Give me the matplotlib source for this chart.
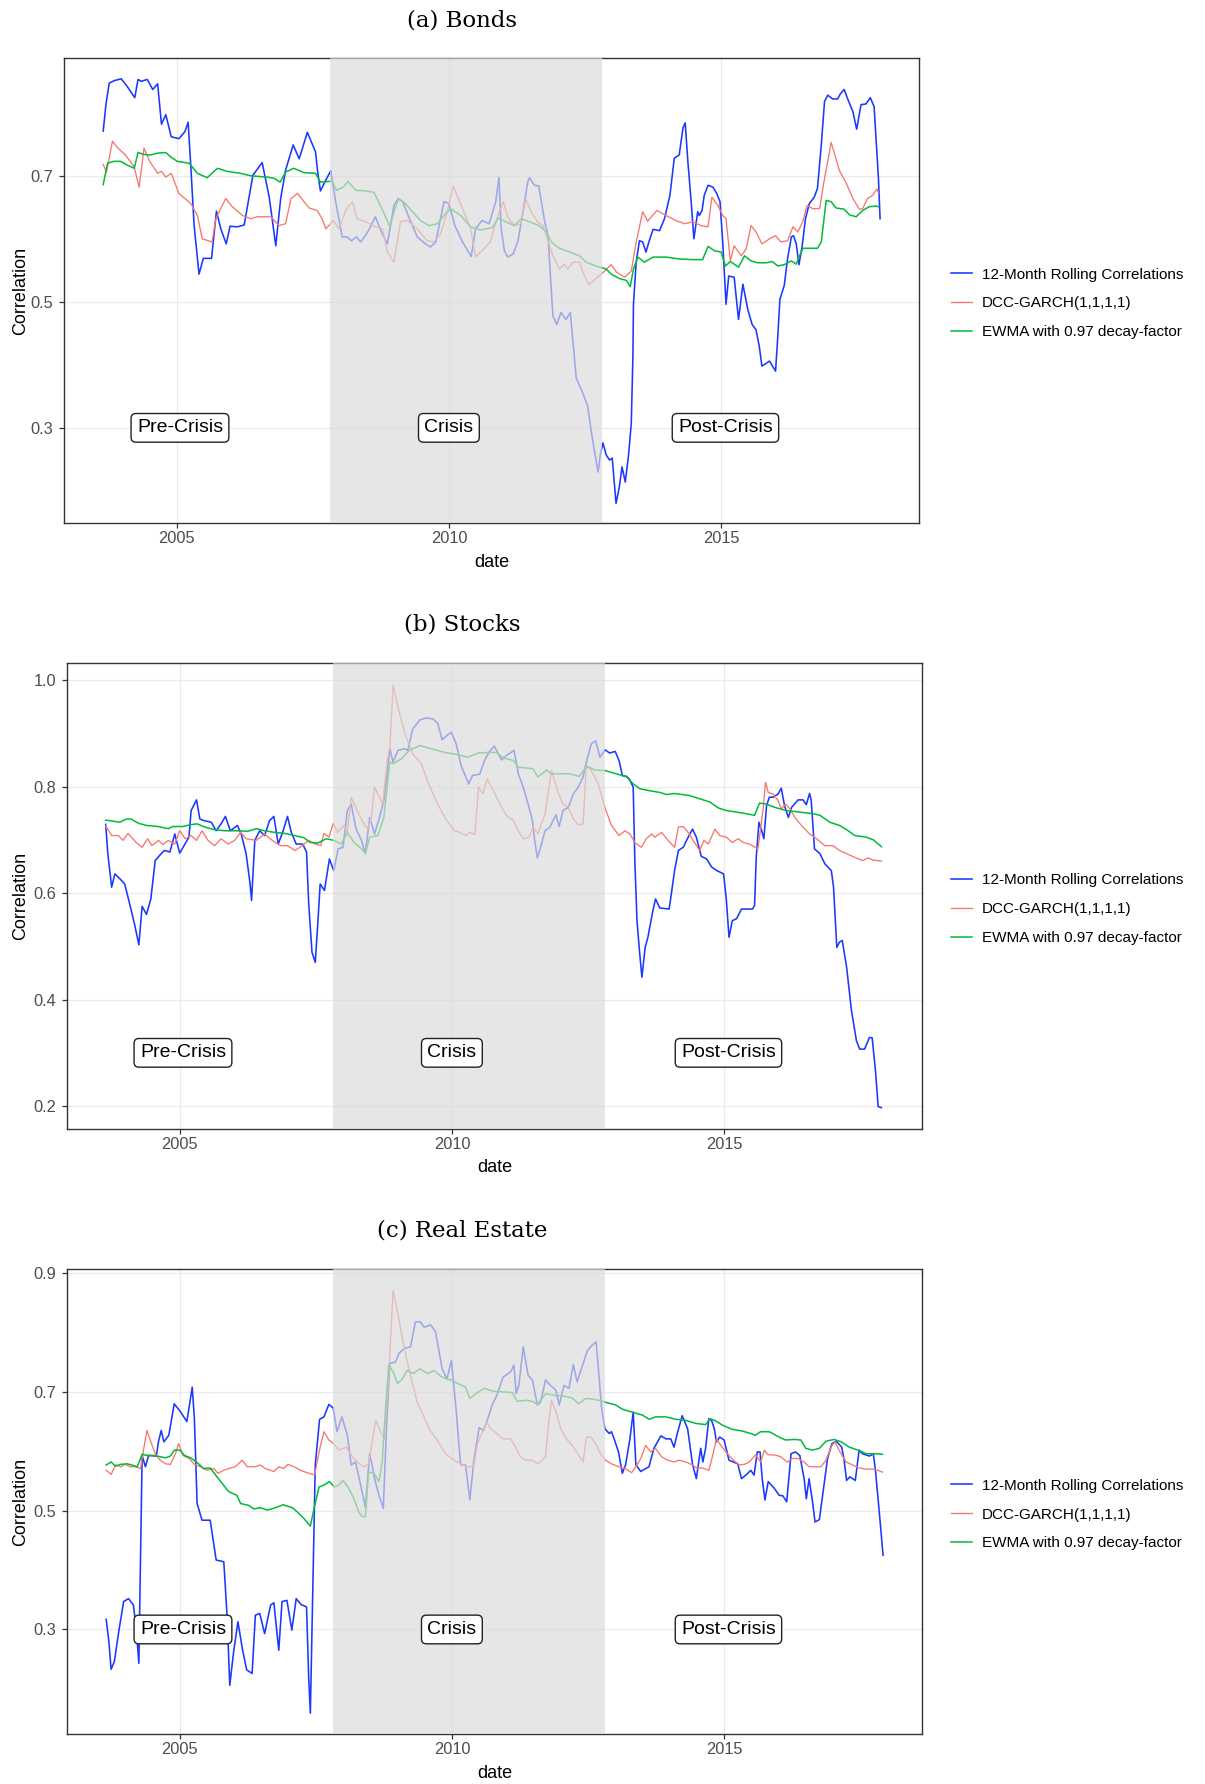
import matplotlib
matplotlib.use('Agg')
import matplotlib.pyplot as plt
from matplotlib.patches import Rectangle
from matplotlib.lines import Line2D

W, H = 1205, 1784

# crisis window (decimal years)
crisis_start = 2007.82
crisis_end = 2012.82

series_names = ['12-Month Rolling Correlations', 'DCC-GARCH(1,1,1,1)', 'EWMA with 0.97 decay-factor']
series_colors = ['#1A38FF', '#F8766D', '#00BA38']
period_labels = ['Pre-Crisis', 'Crisis', 'Post-Crisis']
period_label_x = [2005.06, 2010.0, 2015.08]
period_label_y = 0.3

# ---- (a) Bonds ----
bonds_roll = [(2003.65, 0.771), (2003.70, 0.813), (2003.76, 0.847), (2003.85, 0.851), (2003.98, 0.854),
              (2004.09, 0.842), (2004.23, 0.824), (2004.29, 0.853), (2004.35, 0.850), (2004.46, 0.853),
              (2004.56, 0.837), (2004.65, 0.846), (2004.72, 0.782), (2004.80, 0.797), (2004.90, 0.762),
              (2005.04, 0.759), (2005.15, 0.770), (2005.21, 0.785), (2005.26, 0.714), (2005.32, 0.621),
              (2005.41, 0.544), (2005.49, 0.569), (2005.64, 0.569), (2005.73, 0.644), (2005.81, 0.616),
              (2005.91, 0.592), (2005.98, 0.620), (2006.11, 0.619), (2006.24, 0.622), (2006.32, 0.661),
              (2006.40, 0.701), (2006.57, 0.721), (2006.70, 0.666), (2006.82, 0.589), (2006.91, 0.664),
              (2007.00, 0.709), (2007.14, 0.749), (2007.25, 0.727), (2007.40, 0.769), (2007.55, 0.738),
              (2007.59, 0.706), (2007.64, 0.676), (2007.75, 0.695), (2007.83, 0.708), (2007.92, 0.659),
              (2008.04, 0.603), (2008.13, 0.603), (2008.21, 0.597), (2008.30, 0.603), (2008.38, 0.595),
              (2008.51, 0.611), (2008.65, 0.635), (2008.75, 0.613), (2008.87, 0.592), (2008.99, 0.653),
              (2009.07, 0.664), (2009.15, 0.659), (2009.30, 0.627), (2009.42, 0.603), (2009.57, 0.592),
              (2009.66, 0.587), (2009.76, 0.595), (2009.91, 0.659), (2010.00, 0.656), (2010.11, 0.621),
              (2010.25, 0.595), (2010.41, 0.572), (2010.49, 0.616), (2010.61, 0.629), (2010.74, 0.624),
              (2010.86, 0.659), (2010.92, 0.697), (2010.96, 0.616), (2011.02, 0.581), (2011.08, 0.571),
              (2011.18, 0.576), (2011.27, 0.597), (2011.36, 0.643), (2011.45, 0.691), (2011.48, 0.697),
              (2011.57, 0.685), (2011.65, 0.684), (2011.76, 0.627), (2011.82, 0.605), (2011.88, 0.520),
              (2011.91, 0.478), (2011.98, 0.464), (2012.06, 0.483), (2012.15, 0.472), (2012.23, 0.483),
              (2012.28, 0.435), (2012.34, 0.379), (2012.46, 0.355), (2012.55, 0.334), (2012.61, 0.297),
              (2012.67, 0.265), (2012.74, 0.230), (2012.78, 0.257), (2012.83, 0.276), (2012.89, 0.257),
              (2012.95, 0.249), (2013.00, 0.252), (2013.07, 0.180), (2013.13, 0.206), (2013.18, 0.238),
              (2013.24, 0.214), (2013.30, 0.257), (2013.35, 0.307), (2013.38, 0.414), (2013.39, 0.496),
              (2013.44, 0.563), (2013.50, 0.597), (2013.56, 0.595), (2013.62, 0.579), (2013.68, 0.597),
              (2013.75, 0.615), (2013.87, 0.613), (2013.96, 0.632), (2014.06, 0.669), (2014.14, 0.728),
              (2014.23, 0.733), (2014.30, 0.776), (2014.34, 0.784), (2014.39, 0.722), (2014.45, 0.659),
              (2014.50, 0.600), (2014.57, 0.643), (2014.60, 0.637), (2014.65, 0.645), (2014.69, 0.669),
              (2014.76, 0.685), (2014.85, 0.682), (2014.92, 0.672), (2014.98, 0.659), (2015.03, 0.595),
              (2015.09, 0.496), (2015.14, 0.541), (2015.24, 0.539), (2015.32, 0.472), (2015.40, 0.528),
              (2015.49, 0.488), (2015.57, 0.464), (2015.64, 0.456), (2015.70, 0.430), (2015.75, 0.398),
              (2015.89, 0.406), (2016.00, 0.390), (2016.04, 0.443), (2016.08, 0.504), (2016.16, 0.526),
              (2016.22, 0.568), (2016.29, 0.603), (2016.33, 0.605), (2016.38, 0.592), (2016.43, 0.559),
              (2016.49, 0.589), (2016.55, 0.632), (2016.62, 0.656), (2016.71, 0.666), (2016.77, 0.680),
              (2016.84, 0.749), (2016.90, 0.818), (2016.96, 0.828), (2017.05, 0.822), (2017.14, 0.822),
              (2017.19, 0.830), (2017.26, 0.837), (2017.33, 0.821), (2017.42, 0.802), (2017.49, 0.774),
              (2017.57, 0.813), (2017.66, 0.814), (2017.74, 0.824), (2017.81, 0.810), (2017.86, 0.738),
              (2017.89, 0.696), (2017.92, 0.632)]
bonds_dcc = [(2003.65, 0.718), (2003.71, 0.706), (2003.82, 0.755), (2003.91, 0.745), (2004.06, 0.733),
             (2004.22, 0.714), (2004.31, 0.682), (2004.40, 0.744), (2004.51, 0.722), (2004.65, 0.704),
             (2004.72, 0.707), (2004.80, 0.698), (2004.90, 0.704), (2005.04, 0.672), (2005.26, 0.656),
             (2005.38, 0.637), (2005.47, 0.600), (2005.65, 0.595), (2005.72, 0.632), (2005.90, 0.664),
             (2006.02, 0.651), (2006.21, 0.637), (2006.36, 0.632), (2006.48, 0.635), (2006.73, 0.635),
             (2006.88, 0.621), (2007.00, 0.624), (2007.10, 0.664), (2007.22, 0.672), (2007.34, 0.659),
             (2007.43, 0.649), (2007.58, 0.645), (2007.67, 0.632), (2007.74, 0.616), (2007.88, 0.629),
             (2007.98, 0.616), (2008.12, 0.648), (2008.23, 0.659), (2008.31, 0.632), (2008.47, 0.627),
             (2008.65, 0.619), (2008.78, 0.616), (2008.87, 0.579), (2008.99, 0.563), (2009.11, 0.627),
             (2009.24, 0.629), (2009.42, 0.616), (2009.60, 0.597), (2009.72, 0.595), (2009.85, 0.608),
             (2009.97, 0.643), (2010.08, 0.684), (2010.25, 0.648), (2010.40, 0.616), (2010.49, 0.571),
             (2010.64, 0.584), (2010.76, 0.595), (2010.87, 0.629), (2011.00, 0.659), (2011.08, 0.635),
             (2011.20, 0.621), (2011.33, 0.624), (2011.41, 0.664), (2011.51, 0.643), (2011.63, 0.627),
             (2011.73, 0.621), (2011.82, 0.597), (2011.91, 0.573), (2012.03, 0.552), (2012.12, 0.560),
             (2012.18, 0.552), (2012.28, 0.563), (2012.40, 0.563), (2012.46, 0.547), (2012.57, 0.527),
             (2012.67, 0.535), (2012.80, 0.544), (2012.98, 0.559), (2013.08, 0.547), (2013.23, 0.539),
             (2013.35, 0.549), (2013.44, 0.595), (2013.56, 0.643), (2013.65, 0.628), (2013.82, 0.645),
             (2013.99, 0.637), (2014.17, 0.629), (2014.33, 0.624), (2014.48, 0.627), (2014.63, 0.621),
             (2014.76, 0.619), (2014.83, 0.666), (2014.94, 0.653), (2015.03, 0.637), (2015.09, 0.632),
             (2015.17, 0.565), (2015.24, 0.589), (2015.37, 0.573), (2015.46, 0.584), (2015.55, 0.621),
             (2015.64, 0.611), (2015.75, 0.592), (2015.89, 0.600), (2016.00, 0.605), (2016.10, 0.595),
             (2016.22, 0.597), (2016.32, 0.619), (2016.41, 0.611), (2016.50, 0.627), (2016.58, 0.653),
             (2016.68, 0.648), (2016.81, 0.648), (2016.90, 0.696), (2016.98, 0.733), (2017.02, 0.753),
             (2017.08, 0.736), (2017.17, 0.709), (2017.30, 0.688), (2017.42, 0.664), (2017.54, 0.647),
             (2017.60, 0.648), (2017.69, 0.664), (2017.78, 0.669), (2017.86, 0.679), (2017.89, 0.673)]
bonds_ewma = [(2003.65, 0.686), (2003.73, 0.720), (2003.85, 0.723), (2003.97, 0.723), (2004.09, 0.717),
              (2004.22, 0.712), (2004.29, 0.737), (2004.40, 0.734), (2004.51, 0.733), (2004.65, 0.736),
              (2004.80, 0.737), (2004.89, 0.730), (2005.01, 0.723), (2005.23, 0.720), (2005.38, 0.704),
              (2005.56, 0.697), (2005.75, 0.712), (2005.93, 0.707), (2006.17, 0.704), (2006.36, 0.700),
              (2006.66, 0.698), (2006.79, 0.696), (2006.90, 0.690), (2007.00, 0.706), (2007.15, 0.712),
              (2007.34, 0.705), (2007.55, 0.704), (2007.64, 0.690), (2007.77, 0.691), (2007.86, 0.691),
              (2007.94, 0.677), (2008.06, 0.682), (2008.15, 0.691), (2008.29, 0.677), (2008.47, 0.676),
              (2008.62, 0.674), (2008.71, 0.659), (2008.81, 0.640), (2008.92, 0.619), (2008.99, 0.643),
              (2009.08, 0.664), (2009.20, 0.656), (2009.33, 0.643), (2009.48, 0.629), (2009.63, 0.621),
              (2009.79, 0.624), (2009.91, 0.637), (2010.03, 0.648), (2010.22, 0.637), (2010.40, 0.619),
              (2010.58, 0.614), (2010.80, 0.618), (2010.91, 0.633), (2011.05, 0.627), (2011.20, 0.621),
              (2011.33, 0.632), (2011.48, 0.627), (2011.66, 0.621), (2011.79, 0.611), (2011.88, 0.595),
              (2012.03, 0.585), (2012.22, 0.579), (2012.40, 0.573), (2012.52, 0.563), (2012.70, 0.557),
              (2012.89, 0.552), (2012.98, 0.544), (2013.13, 0.537), (2013.26, 0.534), (2013.33, 0.524),
              (2013.39, 0.552), (2013.47, 0.571), (2013.59, 0.563), (2013.75, 0.571), (2013.99, 0.571),
              (2014.23, 0.568), (2014.48, 0.567), (2014.66, 0.567), (2014.76, 0.588), (2014.88, 0.581),
              (2015.00, 0.579), (2015.08, 0.557), (2015.17, 0.564), (2015.32, 0.555), (2015.43, 0.573),
              (2015.55, 0.565), (2015.67, 0.562), (2015.83, 0.562), (2015.94, 0.564), (2016.04, 0.557),
              (2016.16, 0.559), (2016.29, 0.565), (2016.38, 0.560), (2016.50, 0.585), (2016.77, 0.585),
              (2016.84, 0.595), (2016.93, 0.661), (2017.02, 0.659), (2017.11, 0.649), (2017.26, 0.647),
              (2017.36, 0.638), (2017.48, 0.635), (2017.60, 0.645), (2017.72, 0.651), (2017.85, 0.652),
              (2017.89, 0.651)]

# ---- (b) Stocks ----
stocks_roll = [(2003.64, 0.729), (2003.68, 0.674), (2003.75, 0.611), (2003.81, 0.636), (2003.90, 0.627),
               (2003.99, 0.617), (2004.08, 0.580), (2004.17, 0.542), (2004.25, 0.503), (2004.31, 0.575),
               (2004.39, 0.560), (2004.47, 0.589), (2004.55, 0.661), (2004.66, 0.674), (2004.72, 0.680),
               (2004.82, 0.677), (2004.91, 0.711), (2005.00, 0.675), (2005.08, 0.689), (2005.17, 0.705),
               (2005.21, 0.755), (2005.31, 0.775), (2005.37, 0.739), (2005.45, 0.736), (2005.58, 0.733),
               (2005.67, 0.717), (2005.76, 0.730), (2005.84, 0.744), (2005.93, 0.717), (2006.06, 0.727),
               (2006.13, 0.711), (2006.22, 0.674), (2006.29, 0.620), (2006.32, 0.586), (2006.38, 0.699),
               (2006.47, 0.717), (2006.56, 0.708), (2006.65, 0.736), (2006.73, 0.744), (2006.81, 0.692),
               (2006.90, 0.717), (2006.98, 0.744), (2007.05, 0.714), (2007.14, 0.692), (2007.26, 0.692),
               (2007.33, 0.677), (2007.37, 0.580), (2007.43, 0.489), (2007.49, 0.470), (2007.54, 0.548),
               (2007.58, 0.617), (2007.66, 0.605), (2007.75, 0.664), (2007.83, 0.642), (2007.91, 0.683),
               (2008.00, 0.686), (2008.08, 0.755), (2008.15, 0.767), (2008.24, 0.720), (2008.34, 0.699),
               (2008.41, 0.674), (2008.49, 0.742), (2008.58, 0.711), (2008.67, 0.742), (2008.75, 0.774),
               (2008.81, 0.824), (2008.86, 0.871), (2008.92, 0.846), (2009.01, 0.868), (2009.13, 0.871),
               (2009.19, 0.868), (2009.28, 0.908), (2009.41, 0.925), (2009.53, 0.929), (2009.65, 0.927),
               (2009.74, 0.919), (2009.82, 0.888), (2009.91, 0.896), (2009.99, 0.902), (2010.08, 0.880),
               (2010.17, 0.839), (2010.31, 0.805), (2010.38, 0.821), (2010.51, 0.823), (2010.60, 0.849),
               (2010.69, 0.866), (2010.78, 0.876), (2010.91, 0.850), (2011.00, 0.858), (2011.14, 0.868),
               (2011.17, 0.852), (2011.22, 0.824), (2011.31, 0.799), (2011.40, 0.767), (2011.48, 0.736),
               (2011.52, 0.699), (2011.57, 0.666), (2011.63, 0.686), (2011.71, 0.717), (2011.80, 0.724),
               (2011.91, 0.747), (2011.97, 0.725), (2012.04, 0.755), (2012.14, 0.761), (2012.23, 0.786),
               (2012.32, 0.799), (2012.41, 0.818), (2012.47, 0.846), (2012.56, 0.880), (2012.64, 0.886),
               (2012.72, 0.855), (2012.81, 0.869), (2012.90, 0.863), (2013.00, 0.866), (2013.07, 0.849),
               (2013.13, 0.821), (2013.21, 0.819), (2013.26, 0.814), (2013.33, 0.799), (2013.36, 0.661),
               (2013.40, 0.548), (2013.45, 0.486), (2013.49, 0.442), (2013.55, 0.498), (2013.60, 0.517),
               (2013.68, 0.561), (2013.74, 0.589), (2013.82, 0.572), (2013.99, 0.570), (2014.03, 0.598),
               (2014.09, 0.642), (2014.16, 0.680), (2014.25, 0.686), (2014.34, 0.705), (2014.42, 0.720),
               (2014.49, 0.705), (2014.58, 0.669), (2014.68, 0.664), (2014.77, 0.649), (2014.87, 0.642),
               (2014.99, 0.636), (2015.04, 0.589), (2015.09, 0.517), (2015.15, 0.548), (2015.23, 0.552),
               (2015.32, 0.570), (2015.41, 0.570), (2015.52, 0.570), (2015.56, 0.577), (2015.59, 0.667),
               (2015.64, 0.733), (2015.69, 0.717), (2015.73, 0.702), (2015.78, 0.764), (2015.83, 0.780),
               (2015.90, 0.780), (2015.99, 0.786), (2016.05, 0.797), (2016.11, 0.764), (2016.18, 0.742),
               (2016.24, 0.761), (2016.36, 0.775), (2016.45, 0.775), (2016.51, 0.766), (2016.57, 0.787),
               (2016.60, 0.774), (2016.66, 0.683), (2016.76, 0.674), (2016.85, 0.655), (2016.97, 0.642),
               (2017.01, 0.611), (2017.07, 0.498), (2017.12, 0.508), (2017.17, 0.511), (2017.25, 0.461),
               (2017.34, 0.379), (2017.43, 0.323), (2017.49, 0.307), (2017.58, 0.307), (2017.67, 0.329),
               (2017.72, 0.328), (2017.78, 0.267), (2017.83, 0.199), (2017.89, 0.197)]
stocks_dcc = [(2003.64, 0.726), (2003.75, 0.708), (2003.87, 0.708), (2003.96, 0.699), (2004.05, 0.712),
              (2004.20, 0.695), (2004.31, 0.686), (2004.41, 0.702), (2004.49, 0.689), (2004.61, 0.699),
              (2004.69, 0.691), (2004.79, 0.699), (2004.91, 0.692), (2005.00, 0.717), (2005.10, 0.702),
              (2005.21, 0.708), (2005.31, 0.699), (2005.41, 0.717), (2005.52, 0.699), (2005.64, 0.689),
              (2005.76, 0.702), (2005.89, 0.692), (2006.01, 0.699), (2006.12, 0.714), (2006.22, 0.702),
              (2006.41, 0.699), (2006.56, 0.711), (2006.70, 0.699), (2006.85, 0.689), (2006.98, 0.689),
              (2007.12, 0.680), (2007.25, 0.689), (2007.37, 0.699), (2007.49, 0.692), (2007.59, 0.689),
              (2007.65, 0.712), (2007.74, 0.705), (2007.82, 0.731), (2007.90, 0.714), (2008.02, 0.727),
              (2008.08, 0.714), (2008.15, 0.780), (2008.26, 0.755), (2008.35, 0.736), (2008.45, 0.720),
              (2008.52, 0.742), (2008.58, 0.799), (2008.67, 0.780), (2008.73, 0.767), (2008.81, 0.849),
              (2008.86, 0.874), (2008.92, 0.990), (2009.01, 0.949), (2009.13, 0.902), (2009.28, 0.861),
              (2009.44, 0.843), (2009.56, 0.808), (2009.68, 0.780), (2009.80, 0.755), (2009.93, 0.733),
              (2010.05, 0.717), (2010.14, 0.714), (2010.26, 0.708), (2010.32, 0.714), (2010.42, 0.710),
              (2010.49, 0.799), (2010.57, 0.786), (2010.65, 0.814), (2010.76, 0.793), (2010.88, 0.767),
              (2011.00, 0.746), (2011.13, 0.736), (2011.22, 0.717), (2011.31, 0.702), (2011.42, 0.705),
              (2011.49, 0.724), (2011.58, 0.711), (2011.71, 0.749), (2011.83, 0.830), (2011.95, 0.789),
              (2012.04, 0.767), (2012.14, 0.761), (2012.23, 0.739), (2012.32, 0.728), (2012.41, 0.730),
              (2012.47, 0.839), (2012.56, 0.830), (2012.69, 0.805), (2012.81, 0.761), (2012.93, 0.727),
              (2013.07, 0.708), (2013.18, 0.717), (2013.27, 0.711), (2013.36, 0.695), (2013.48, 0.686),
              (2013.57, 0.702), (2013.67, 0.711), (2013.73, 0.705), (2013.85, 0.714), (2013.97, 0.699),
              (2014.09, 0.686), (2014.16, 0.724), (2014.25, 0.725), (2014.34, 0.714), (2014.43, 0.699),
              (2014.55, 0.680), (2014.63, 0.699), (2014.71, 0.692), (2014.83, 0.720), (2014.92, 0.708),
              (2015.04, 0.705), (2015.15, 0.695), (2015.26, 0.702), (2015.35, 0.695), (2015.47, 0.692),
              (2015.62, 0.683), (2015.65, 0.705), (2015.72, 0.761), (2015.76, 0.808), (2015.81, 0.789),
              (2015.90, 0.786), (2015.99, 0.774), (2016.05, 0.758), (2016.13, 0.767), (2016.21, 0.758),
              (2016.30, 0.742), (2016.42, 0.727), (2016.57, 0.711), (2016.70, 0.702), (2016.85, 0.689),
              (2017.00, 0.689), (2017.12, 0.680), (2017.25, 0.674), (2017.40, 0.667), (2017.55, 0.661),
              (2017.64, 0.666), (2017.74, 0.662), (2017.89, 0.660)]
stocks_ewma = [(2003.64, 0.737), (2003.78, 0.735), (2003.90, 0.733), (2004.02, 0.739), (2004.11, 0.739),
               (2004.24, 0.731), (2004.39, 0.727), (2004.60, 0.725), (2004.79, 0.721), (2004.88, 0.725),
               (2005.06, 0.725), (2005.18, 0.728), (2005.32, 0.730), (2005.46, 0.724), (2005.64, 0.719),
               (2005.83, 0.717), (2006.07, 0.717), (2006.25, 0.716), (2006.41, 0.721), (2006.56, 0.717),
               (2006.74, 0.714), (2006.93, 0.712), (2007.11, 0.708), (2007.28, 0.704), (2007.40, 0.695),
               (2007.54, 0.694), (2007.69, 0.702), (2007.83, 0.699), (2007.97, 0.692), (2008.08, 0.714),
               (2008.21, 0.694), (2008.34, 0.683), (2008.41, 0.674), (2008.49, 0.705), (2008.64, 0.708),
               (2008.75, 0.742), (2008.81, 0.799), (2008.86, 0.846), (2008.92, 0.843), (2009.07, 0.852),
               (2009.22, 0.868), (2009.41, 0.877), (2009.62, 0.871), (2009.87, 0.864), (2010.11, 0.860),
               (2010.29, 0.855), (2010.48, 0.863), (2010.66, 0.864), (2010.82, 0.864), (2010.94, 0.854),
               (2011.13, 0.849), (2011.22, 0.836), (2011.37, 0.835), (2011.49, 0.833), (2011.58, 0.818),
               (2011.74, 0.831), (2011.83, 0.824), (2011.98, 0.824), (2012.17, 0.824), (2012.34, 0.819),
               (2012.48, 0.838), (2012.63, 0.831), (2012.81, 0.830), (2013.02, 0.824), (2013.21, 0.818),
               (2013.33, 0.805), (2013.45, 0.796), (2013.64, 0.792), (2013.82, 0.789), (2013.94, 0.785),
               (2014.09, 0.787), (2014.37, 0.783), (2014.55, 0.777), (2014.74, 0.771), (2014.89, 0.760),
               (2015.04, 0.755), (2015.23, 0.752), (2015.41, 0.749), (2015.56, 0.746), (2015.65, 0.769),
               (2015.78, 0.767), (2015.93, 0.761), (2016.14, 0.755), (2016.39, 0.752), (2016.63, 0.749),
               (2016.76, 0.746), (2016.94, 0.733), (2017.12, 0.727), (2017.28, 0.717), (2017.40, 0.708),
               (2017.61, 0.705), (2017.74, 0.700), (2017.89, 0.687)]

# ---- (c) Real Estate ----
estate_roll = [(2003.65, 0.317), (2003.70, 0.279), (2003.74, 0.233), (2003.80, 0.246), (2003.88, 0.296),
               (2003.97, 0.347), (2004.06, 0.352), (2004.15, 0.341), (2004.20, 0.302), (2004.25, 0.243),
               (2004.28, 0.419), (2004.31, 0.593), (2004.37, 0.574), (2004.43, 0.593), (2004.57, 0.592),
               (2004.61, 0.616), (2004.66, 0.635), (2004.71, 0.616), (2004.80, 0.627), (2004.90, 0.680),
               (2005.02, 0.666), (2005.13, 0.650), (2005.18, 0.678), (2005.23, 0.708), (2005.27, 0.655),
               (2005.32, 0.512), (2005.41, 0.484), (2005.56, 0.484), (2005.67, 0.417), (2005.81, 0.414),
               (2005.87, 0.324), (2005.92, 0.206), (2005.99, 0.262), (2006.07, 0.313), (2006.15, 0.268),
               (2006.23, 0.232), (2006.33, 0.226), (2006.39, 0.324), (2006.47, 0.327), (2006.56, 0.293),
               (2006.67, 0.341), (2006.73, 0.345), (2006.82, 0.265), (2006.88, 0.347), (2006.97, 0.349),
               (2007.06, 0.299), (2007.14, 0.352), (2007.23, 0.342), (2007.33, 0.338), (2007.37, 0.218),
               (2007.40, 0.159), (2007.45, 0.391), (2007.49, 0.577), (2007.57, 0.654), (2007.65, 0.658),
               (2007.74, 0.679), (2007.82, 0.673), (2007.89, 0.633), (2007.98, 0.658), (2008.08, 0.627),
               (2008.15, 0.577), (2008.23, 0.582), (2008.31, 0.549), (2008.41, 0.506), (2008.49, 0.596),
               (2008.58, 0.554), (2008.66, 0.526), (2008.74, 0.504), (2008.80, 0.644), (2008.86, 0.748),
               (2008.96, 0.750), (2009.03, 0.765), (2009.12, 0.773), (2009.24, 0.776), (2009.33, 0.818),
               (2009.42, 0.818), (2009.49, 0.809), (2009.61, 0.813), (2009.70, 0.801), (2009.82, 0.739),
               (2009.91, 0.722), (2009.99, 0.753), (2010.07, 0.678), (2010.16, 0.577), (2010.25, 0.577),
               (2010.33, 0.518), (2010.40, 0.582), (2010.50, 0.640), (2010.58, 0.635), (2010.67, 0.658),
               (2010.74, 0.678), (2010.83, 0.695), (2010.94, 0.725), (2011.08, 0.734), (2011.14, 0.745),
               (2011.18, 0.697), (2011.23, 0.711), (2011.31, 0.776), (2011.40, 0.728), (2011.48, 0.720),
               (2011.57, 0.678), (2011.63, 0.683), (2011.72, 0.720), (2011.81, 0.711), (2011.91, 0.703),
               (2011.97, 0.678), (2012.06, 0.711), (2012.15, 0.706), (2012.23, 0.746), (2012.30, 0.717),
               (2012.40, 0.745), (2012.49, 0.770), (2012.58, 0.779), (2012.65, 0.784), (2012.70, 0.728),
               (2012.75, 0.672), (2012.81, 0.638), (2012.89, 0.630), (2012.93, 0.633), (2012.98, 0.621),
               (2013.06, 0.599), (2013.13, 0.563), (2013.19, 0.577), (2013.27, 0.621), (2013.33, 0.666),
               (2013.38, 0.577), (2013.47, 0.566), (2013.56, 0.571), (2013.62, 0.574), (2013.71, 0.605),
               (2013.84, 0.626), (2013.93, 0.621), (2014.02, 0.621), (2014.08, 0.607), (2014.14, 0.630),
               (2014.23, 0.660), (2014.33, 0.638), (2014.42, 0.578), (2014.49, 0.554), (2014.57, 0.605),
               (2014.61, 0.582), (2014.66, 0.605), (2014.72, 0.655), (2014.77, 0.652), (2014.82, 0.638),
               (2014.86, 0.616), (2014.92, 0.624), (2015.00, 0.619), (2015.09, 0.585), (2015.17, 0.582),
               (2015.25, 0.579), (2015.32, 0.554), (2015.40, 0.560), (2015.49, 0.568), (2015.55, 0.560),
               (2015.61, 0.599), (2015.66, 0.599), (2015.70, 0.554), (2015.75, 0.518), (2015.81, 0.549),
               (2015.92, 0.538), (2016.01, 0.526), (2016.08, 0.525), (2016.15, 0.515), (2016.23, 0.596),
               (2016.31, 0.599), (2016.39, 0.593), (2016.47, 0.554), (2016.51, 0.520), (2016.56, 0.554),
               (2016.62, 0.518), (2016.67, 0.481), (2016.75, 0.485), (2016.81, 0.526), (2016.90, 0.588),
               (2016.98, 0.613), (2017.06, 0.617), (2017.16, 0.607), (2017.20, 0.588), (2017.25, 0.551),
               (2017.31, 0.557), (2017.41, 0.551), (2017.48, 0.602), (2017.54, 0.596), (2017.67, 0.592),
               (2017.74, 0.596), (2017.78, 0.568), (2017.85, 0.498), (2017.92, 0.425)]
estate_dcc = [(2003.65, 0.568), (2003.74, 0.561), (2003.82, 0.577), (2003.92, 0.574), (2004.00, 0.578),
              (2004.09, 0.574), (2004.19, 0.574), (2004.28, 0.571), (2004.34, 0.605), (2004.40, 0.635),
              (2004.47, 0.616), (2004.55, 0.596), (2004.64, 0.585), (2004.74, 0.579), (2004.83, 0.578),
              (2004.92, 0.596), (2004.98, 0.613), (2005.06, 0.593), (2005.17, 0.588), (2005.27, 0.578),
              (2005.38, 0.574), (2005.50, 0.568), (2005.63, 0.571), (2005.70, 0.563), (2005.81, 0.568),
              (2005.90, 0.571), (2006.02, 0.574), (2006.15, 0.585), (2006.24, 0.574), (2006.39, 0.574),
              (2006.48, 0.577), (2006.57, 0.571), (2006.73, 0.566), (2006.82, 0.574), (2006.91, 0.571),
              (2006.99, 0.578), (2007.10, 0.574), (2007.22, 0.568), (2007.37, 0.563), (2007.48, 0.560),
              (2007.53, 0.585), (2007.58, 0.607), (2007.65, 0.633), (2007.74, 0.619), (2007.83, 0.613),
              (2007.92, 0.602), (2008.06, 0.607), (2008.17, 0.591), (2008.26, 0.582), (2008.38, 0.574),
              (2008.47, 0.579), (2008.60, 0.652), (2008.69, 0.633), (2008.76, 0.621), (2008.84, 0.731),
              (2008.92, 0.871), (2009.00, 0.835), (2009.09, 0.790), (2009.18, 0.750), (2009.27, 0.717),
              (2009.36, 0.683), (2009.45, 0.666), (2009.58, 0.638), (2009.73, 0.619), (2009.88, 0.596),
              (2010.04, 0.585), (2010.19, 0.577), (2010.31, 0.574), (2010.40, 0.574), (2010.47, 0.613),
              (2010.56, 0.633), (2010.64, 0.650), (2010.71, 0.638), (2010.83, 0.630), (2010.93, 0.621),
              (2011.08, 0.621), (2011.17, 0.607), (2011.26, 0.591), (2011.35, 0.585), (2011.48, 0.585),
              (2011.57, 0.579), (2011.66, 0.585), (2011.72, 0.591), (2011.78, 0.650), (2011.83, 0.686),
              (2011.92, 0.664), (2012.00, 0.638), (2012.10, 0.621), (2012.21, 0.610), (2012.33, 0.593),
              (2012.41, 0.582), (2012.47, 0.624), (2012.55, 0.624), (2012.64, 0.613), (2012.73, 0.596),
              (2012.82, 0.585), (2012.95, 0.578), (2013.07, 0.574), (2013.19, 0.571), (2013.30, 0.564),
              (2013.38, 0.574), (2013.47, 0.588), (2013.56, 0.610), (2013.65, 0.599), (2013.74, 0.605),
              (2013.85, 0.591), (2013.96, 0.585), (2014.08, 0.582), (2014.17, 0.585), (2014.30, 0.582),
              (2014.42, 0.577), (2014.51, 0.571), (2014.60, 0.572), (2014.72, 0.568), (2014.79, 0.593),
              (2014.86, 0.621), (2014.94, 0.610), (2015.06, 0.596), (2015.17, 0.585), (2015.28, 0.577),
              (2015.37, 0.578), (2015.46, 0.582), (2015.58, 0.594), (2015.67, 0.582), (2015.74, 0.602),
              (2015.81, 0.594), (2015.92, 0.594), (2016.04, 0.591), (2016.16, 0.582), (2016.26, 0.588),
              (2016.35, 0.588), (2016.47, 0.582), (2016.56, 0.574), (2016.69, 0.574), (2016.78, 0.574),
              (2016.87, 0.585), (2016.98, 0.610), (2017.04, 0.616), (2017.11, 0.602), (2017.24, 0.582),
              (2017.36, 0.577), (2017.48, 0.572), (2017.60, 0.570), (2017.73, 0.570), (2017.82, 0.568),
              (2017.91, 0.565)]
estate_ewma = [(2003.65, 0.577), (2003.74, 0.582), (2003.82, 0.575), (2003.91, 0.578), (2004.03, 0.579),
               (2004.12, 0.577), (2004.22, 0.574), (2004.31, 0.595), (2004.40, 0.593), (2004.52, 0.593),
               (2004.64, 0.591), (2004.74, 0.589), (2004.83, 0.592), (2004.90, 0.602), (2005.00, 0.602),
               (2005.09, 0.593), (2005.20, 0.589), (2005.31, 0.582), (2005.44, 0.571), (2005.56, 0.572),
               (2005.66, 0.560), (2005.78, 0.546), (2005.90, 0.532), (2006.05, 0.526), (2006.12, 0.512),
               (2006.27, 0.509), (2006.36, 0.503), (2006.48, 0.505), (2006.61, 0.501), (2006.76, 0.505),
               (2006.90, 0.510), (2007.07, 0.505), (2007.16, 0.498), (2007.28, 0.487), (2007.40, 0.474),
               (2007.48, 0.509), (2007.56, 0.540), (2007.65, 0.543), (2007.75, 0.549), (2007.84, 0.540),
               (2007.92, 0.543), (2008.00, 0.551), (2008.11, 0.537), (2008.20, 0.520), (2008.29, 0.498),
               (2008.35, 0.490), (2008.41, 0.490), (2008.47, 0.565), (2008.57, 0.563), (2008.66, 0.549),
               (2008.72, 0.582), (2008.78, 0.672), (2008.84, 0.745), (2008.92, 0.734), (2009.00, 0.714),
               (2009.09, 0.722), (2009.18, 0.736), (2009.29, 0.731), (2009.41, 0.739), (2009.55, 0.731),
               (2009.67, 0.736), (2009.82, 0.725), (2009.98, 0.720), (2010.16, 0.712), (2010.25, 0.708),
               (2010.33, 0.689), (2010.44, 0.697), (2010.59, 0.706), (2010.77, 0.701), (2010.94, 0.700),
               (2011.11, 0.699), (2011.20, 0.684), (2011.35, 0.686), (2011.48, 0.684), (2011.57, 0.679),
               (2011.72, 0.697), (2011.91, 0.694), (2012.06, 0.693), (2012.21, 0.690), (2012.33, 0.680),
               (2012.46, 0.689), (2012.58, 0.688), (2012.70, 0.686), (2012.81, 0.683), (2013.01, 0.678),
               (2013.13, 0.671), (2013.31, 0.666), (2013.50, 0.661), (2013.62, 0.654), (2013.74, 0.658),
               (2013.93, 0.658), (2014.11, 0.654), (2014.30, 0.652), (2014.48, 0.647), (2014.66, 0.645),
               (2014.74, 0.655), (2014.85, 0.651), (2014.97, 0.644), (2015.15, 0.637), (2015.34, 0.634),
               (2015.49, 0.630), (2015.57, 0.627), (2015.67, 0.633), (2015.83, 0.633), (2016.01, 0.624),
               (2016.13, 0.619), (2016.29, 0.620), (2016.41, 0.619), (2016.50, 0.605), (2016.62, 0.602),
               (2016.75, 0.605), (2016.87, 0.617), (2017.02, 0.620), (2017.15, 0.616), (2017.30, 0.607),
               (2017.46, 0.602), (2017.61, 0.596), (2017.76, 0.596), (2017.91, 0.595)]

panels = [
    {'title': '(a) Bonds', 'series': [bonds_roll, bonds_dcc, bonds_ewma],
     'box': (64, 58, 919, 523), 'ylim': (0.149, 0.887), 'yticks': [0.3, 0.5, 0.7]},
    {'title': '(b) Stocks', 'series': [stocks_roll, stocks_dcc, stocks_ewma],
     'box': (67, 663, 922, 1129), 'ylim': (0.157, 1.032), 'yticks': [0.2, 0.4, 0.6, 0.8, 1.0]},
    {'title': '(c) Real Estate', 'series': [estate_roll, estate_dcc, estate_ewma],
     'box': (67, 1269, 922, 1734), 'ylim': (0.124, 0.907), 'yticks': [0.3, 0.5, 0.7, 0.9]},
]

sans = ['Liberation Sans', 'DejaVu Sans']
plt.rcParams['font.family'] = sans

fig = plt.figure(figsize=(W / 100, H / 100), dpi=100)
fig.patch.set_facecolor('white')

for p in panels:
    l, t, r, b = p['box']
    ax = fig.add_axes([l / W, 1 - b / H, (r - l) / W, (b - t) / H])
    ax.set_xlim(2002.93, 2018.635)
    ax.set_ylim(*p['ylim'])
    ax.set_xticks([2005, 2010, 2015])
    ax.set_xticklabels(['2005', '2010', '2015'])
    ax.set_yticks(p['yticks'])
    ax.set_yticklabels(['%.1f' % v for v in p['yticks']])
    ax.grid(True, color='#EBEBEB', linewidth=0.9)
    ax.set_axisbelow(True)
    for s in ax.spines.values():
        s.set_color('#333333')
        s.set_linewidth(1.0)
    ax.tick_params(axis='both', colors='#333333', length=3.5, width=0.9,
                   labelsize=11.8, labelcolor='#4D4D4D')
    ax.tick_params(axis='x', pad=2.5)
    ax.tick_params(axis='y', pad=4.5)

    widths = [1.15, 0.95, 1.1]
    for data, color, lw in zip(p['series'], series_colors, widths):
        xs = [d[0] for d in data]
        ys = [d[1] for d in data]
        ax.plot(xs, ys, color=color, linewidth=lw, zorder=2)

    # crisis shading drawn over the lines
    y0, y1 = p['ylim']
    ax.add_patch(Rectangle((crisis_start, y0), crisis_end - crisis_start, y1 - y0,
                           facecolor='#DBDBDB', alpha=0.69, edgecolor='none', zorder=3))

    for txt, xv in zip(period_labels, period_label_x):
        ax.text(xv, period_label_y, txt, ha='center', va='center', fontsize=14, color='black', zorder=5,
                bbox=dict(boxstyle='round,pad=0.3,rounding_size=0.25', facecolor='white',
                          edgecolor='#222222', linewidth=1.0))

    handles = [Line2D([], [], color=c, linewidth=lw) for c, lw in zip(series_colors, widths)]
    cy = (t + b) / 2
    ax.legend(handles, series_names, loc='center left',
              bbox_to_anchor=(951 / W, 1 - (cy + 13) / H), bbox_transform=fig.transFigure,
              frameon=False, fontsize=11, borderpad=0, borderaxespad=0,
              handlelength=1.35, handletextpad=0.65, labelspacing=0.98)

    fig.text((l + r) / 2 / W, 1 - (b + 39) / H, 'date', ha='center', va='center', fontsize=13)
    fig.text(21 / W, 1 - cy / H, 'Correlation', ha='center', va='center', rotation=90, fontsize=13)
    fig.text(462 / W, 1 - (t - 38) / H, p['title'], ha='center', va='center',
             fontsize=16.5, family='DejaVu Serif')

fig.savefig('out.png', dpi=100)
